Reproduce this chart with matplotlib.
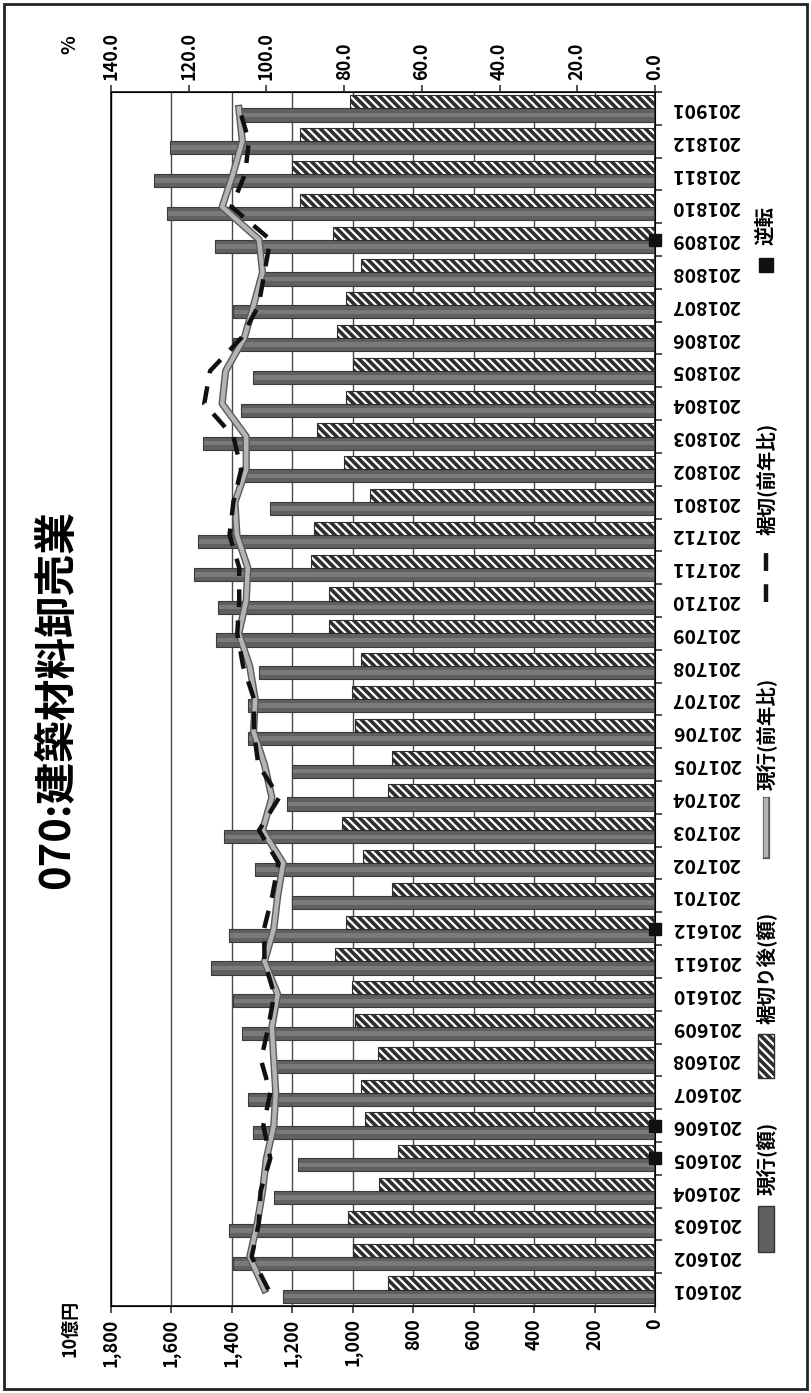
import matplotlib
matplotlib.use("Agg")
import matplotlib.pyplot as plt
import matplotlib.patheffects as pe
from matplotlib.patches import Rectangle
from matplotlib.lines import Line2D
import numpy as np

plt.rcParams["font.family"] = ["Noto Sans CJK JP", "DejaVu Sans"]
plt.rcParams["font.weight"] = "bold"
plt.rcParams["hatch.linewidth"] = 2.6

# ---- data -------------------------------------------------------------
months = [
    "201601", "201602", "201603", "201604", "201605", "201606",
    "201607", "201608", "201609", "201610", "201611", "201612",
    "201701", "201702", "201703", "201704", "201705", "201706",
    "201707", "201708", "201709", "201710", "201711", "201712",
    "201801", "201802", "201803", "201804", "201805", "201806",
    "201807", "201808", "201809", "201810", "201811", "201812",
    "201901",
]
# 現行(額) 10億円
current_amt = [
    1231, 1396, 1410, 1261, 1182, 1329, 1347, 1261, 1365, 1396, 1469, 1408,
    1200, 1322, 1427, 1218, 1200, 1347, 1347, 1310, 1451, 1445, 1524, 1512,
    1273, 1371, 1496, 1371, 1329, 1396, 1396, 1298, 1457, 1616, 1659, 1604,
    1384,
]
# 裾切り後(額) 10億円
cutoff_amt = [
    882, 998, 1016, 912, 851, 961, 973, 918, 992, 1004, 1059, 1022,
    869, 967, 1035, 882, 869, 992, 1004, 973, 1078, 1078, 1139, 1127,
    943, 1029, 1120, 1022, 998, 1053, 1022, 973, 1065, 1176, 1200, 1176,
    1010,
]
# 現行(前年比) %
current_yoy = [
    100.5, 104.3, 102.4, 101.0, 100.0, 98.1, 97.6, 98.1, 98.6, 97.1, 100.5, 98.1,
    97.1, 95.7, 101.0, 98.6, 100.5, 103.3, 102.9, 104.3, 107.1, 105.2, 104.8, 107.6,
    108.1, 105.2, 105.2, 111.4, 110.5, 105.7, 103.3, 101.0, 101.9, 111.4, 108.6, 106.2,
    107.1,
]
# 裾切(前年比) %
cutoff_yoy = [
    99.5, 103.8, 102.0, 101.5, 99.0, 100.8, 99.0, 101.4, 99.5, 98.0, 100.5, 100.6,
    98.5, 96.9, 101.9, 96.7, 102.1, 103.2, 103.2, 106.0, 107.5, 107.0, 107.0, 109.5,
    108.5, 106.5, 108.5, 116.0, 114.5, 106.5, 102.0, 100.5, 99.0, 109.0, 105.5, 104.5,
    107.0,
]
# 逆転 months
reversal_months = ["201605", "201606", "201612", "201809"]

amt_ticks = [0, 200, 400, 600, 800, 1000, 1200, 1400, 1600, 1800]
pct_ticks = [0, 20, 40, 60, 80, 100, 120, 140]

# ---- layout (pixels) --------------------------------------------------
W, H = 811, 1393
fig = plt.figure(figsize=(W / 100, H / 100), dpi=100)


def fx(px):
    return px / W


def fy(py):
    return 1 - py / H


L, R, T, B = 111, 655, 92, 1306
ax = fig.add_axes([fx(L), fy(B), (R - L) / W, (B - T) / H])
idx = np.arange(len(months))

bar_dark = "#606060"
bar_mid = "#7a7a7a"
hatch_pat = "\\\\\\\\"
ax.barh(idx - 0.2, current_amt, height=0.4, color=bar_dark,
        edgecolor="#3a3a3a", lw=0.8, zorder=2)
# lighter core stripe of the solid bars
ax.barh(idx - 0.2, np.array(current_amt) - 6, height=0.14, left=3,
        color=bar_mid, lw=0, zorder=2.1)
ax.barh(idx + 0.2, cutoff_amt, height=0.4, color="white",
        edgecolor="#2e2e2e", lw=0.8, hatch=hatch_pat, zorder=2)

ax.set_xlim(1800, 0)
ax.set_ylim(-0.5, len(months) - 0.5)
ax.set_xticks(amt_ticks)
ax.set_xticklabels([f"{v:,}" for v in amt_ticks], rotation=90,
                   fontsize=13, fontweight="bold")
ax.xaxis.grid(True, color="#4a4a4a", lw=1.0)
ax.set_axisbelow(True)
ax.tick_params(axis="x", direction="out", length=5, width=1.2, pad=4,
               color="#333")

ax.yaxis.tick_right()
ax.set_yticks(idx)
ax.set_yticklabels(months, rotation=180, fontsize=14, fontweight="bold",
                   va="center")
ax.set_yticks(idx + 0.5, minor=True)
ax.tick_params(axis="y", which="major", length=0, pad=12)
ax.tick_params(axis="y", which="minor", direction="out", length=5,
               width=1.2, color="#333")
for s in ax.spines.values():
    s.set_color("#333")
    s.set_linewidth(1.4)

ax2 = ax.twiny()
ax2.set_xlim(140, 0)
ax2.set_xticks(pct_ticks)
ax2.set_xticklabels([f"{v:.1f}" for v in pct_ticks], rotation=90,
                    fontsize=13, fontweight="bold")
ax2.tick_params(axis="x", direction="out", length=5, width=1.2, pad=4,
                color="#333")

ax2.plot(current_yoy, idx, color="#b4b4b4", lw=3.2, zorder=4,
         solid_joinstyle="round",
         path_effects=[pe.Stroke(linewidth=5.2, foreground="#5a5a5a"),
                       pe.Normal()])
ax2.plot(cutoff_yoy, idx, color="#111111", lw=3.2, dashes=(4, 3), zorder=5)
rev_idx = [months.index(m) for m in reversal_months]
ax2.plot([0] * len(rev_idx), rev_idx, ls="none", marker="s", ms=9,
         color="#111111", clip_on=False, zorder=6)

# ---- titles and unit labels --------------------------------------------
fig.text(fx(57), fy(700), "070:建築材料卸売業", rotation=90, ha="center",
         va="center", fontsize=30, fontweight="bold")
fig.text(fx(70), fy(1328), "10億円", rotation=90, ha="center", va="center",
         fontsize=13, fontweight="bold")
fig.text(fx(70), fy(45), "%", rotation=90, ha="center", va="center",
         fontsize=14, fontweight="bold")

# ---- legend (reads bottom to top) --------------------------------------
lx = 766
fig.add_artist(Rectangle((fx(lx - 8), fy(1252)), 16 / W, 46 / H,
                         transform=fig.transFigure, facecolor=bar_dark,
                         edgecolor="#333", lw=1))
fig.text(fx(lx), fy(1195), "現行(額)", rotation=90, ha="center",
         va="bottom", fontsize=14, fontweight="bold")
fig.add_artist(Rectangle((fx(lx - 8), fy(1078)), 16 / W, 44 / H,
                         transform=fig.transFigure, facecolor="white",
                         edgecolor="#2e2e2e", lw=1, hatch=hatch_pat))
fig.text(fx(lx), fy(1024), "裾切り後(額)", rotation=90, ha="center",
         va="bottom", fontsize=14, fontweight="bold")
fig.add_artist(Line2D([fx(lx), fx(lx)], [fy(855), fy(800)],
                      transform=fig.transFigure, color="#b4b4b4", lw=3.2,
                      path_effects=[pe.Stroke(linewidth=5.2,
                                              foreground="#5a5a5a"),
                                    pe.Normal()]))
fig.text(fx(lx), fy(790), "現行(前年比)", rotation=90, ha="center",
         va="bottom", fontsize=14, fontweight="bold")
fig.add_artist(Line2D([fx(lx), fx(lx)], [fy(602), fy(545)],
                      transform=fig.transFigure, color="#111", lw=3.2,
                      dashes=(4, 3)))
fig.text(fx(lx), fy(535), "裾切(前年比)", rotation=90, ha="center",
         va="bottom", fontsize=14, fontweight="bold")
fig.add_artist(Line2D([fx(lx)], [fy(265)], transform=fig.transFigure,
                      ls="none", marker="s", ms=10, color="#111"))
fig.text(fx(lx), fy(245), "逆転", rotation=90, ha="center", va="bottom",
         fontsize=14, fontweight="bold")

# outer frame
fig.add_artist(Rectangle((fx(4), fy(1389)), 803 / W, 1385 / H,
                         transform=fig.transFigure, fill=False,
                         edgecolor="#222", lw=2))

fig.savefig("out.png", dpi=100)
